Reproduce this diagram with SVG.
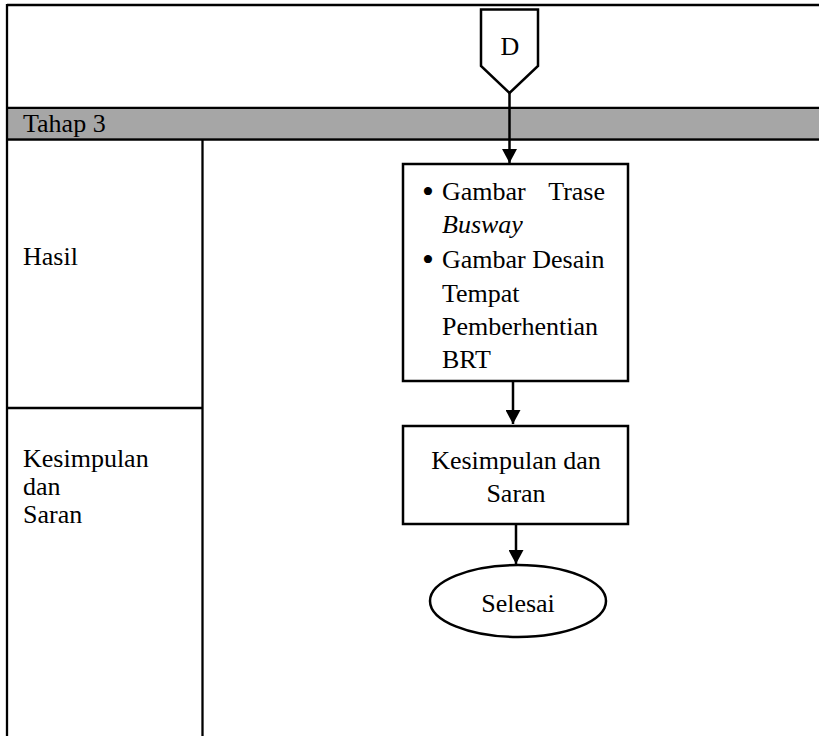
<svg xmlns="http://www.w3.org/2000/svg" width="819" height="736" viewBox="0 0 819 736">
  <style>
    .grid { stroke: #000; stroke-width: 2.3; fill: none; }
    .box { fill: #fff; stroke: #000; stroke-width: 2.5; }
    .txt { font-size: 26px; fill: #000; }
    .bullet { font-size: 34px; fill: #000; }
    .mid { text-anchor: middle; }
    .flow { stroke: #000; stroke-width: 2.5; fill: none; }
  </style>
  <defs>
    <marker id="arrow" viewBox="0 0 14 15" refX="14" refY="7.5" markerWidth="14" markerHeight="15" markerUnits="userSpaceOnUse" orient="auto">
      <path d="M0,0 L14,7.5 L0,15 Z" fill="#000"/>
    </marker>
  </defs>

  <rect width="819" height="736" fill="#fff"/>

  <g font-family="'Liberation Serif', 'Times New Roman', Times, serif">
    <!-- table frame with stage band and row labels -->
    <g id="table">
      <rect x="7" y="108.5" width="812" height="30" fill="#a6a6a6"/>
      <line class="grid" x1="7" y1="5" x2="819" y2="5"/>
      <line class="grid" x1="7" y1="4" x2="7" y2="736"/>
      <line class="grid" x1="7" y1="107.8" x2="819" y2="107.8"/>
      <line class="grid" x1="7" y1="139.5" x2="819" y2="139.5"/>
      <line class="grid" x1="202.5" y1="139.5" x2="202.5" y2="736"/>
      <line class="grid" x1="7" y1="408" x2="202.5" y2="408"/>
      <text class="txt" x="23" y="132">Tahap 3</text>
      <text class="txt" x="23" y="265">Hasil</text>
      <text class="txt" x="23" y="467">Kesimpulan</text>
      <text class="txt" x="23" y="495">dan</text>
      <text class="txt" x="23" y="523">Saran</text>
    </g>

    <!-- connectors -->
    <g id="connectors">
      <line class="flow" x1="509.5" y1="93" x2="509.5" y2="163" marker-end="url(#arrow)"/>
      <line class="flow" x1="513" y1="381" x2="513" y2="424" marker-end="url(#arrow)"/>
      <line class="flow" x1="516" y1="524" x2="516" y2="564" marker-end="url(#arrow)"/>
    </g>

    <!-- off-page connector D -->
    <g id="node-d">
      <path class="box" d="M481,9.5 L538,9.5 L538,66 L509.5,93 L481,66 Z"/>
      <text class="txt mid" x="510" y="55">D</text>
    </g>

    <!-- outputs -->
    <g id="node-hasil">
      <rect class="box" x="403" y="164" width="225" height="217"/>
      <text class="bullet" x="422" y="203">•</text>
      <text class="txt" x="442" y="200">Gambar</text>
      <text class="txt" x="605" y="200" text-anchor="end">Trase</text>
      <text class="txt" x="442" y="233" font-style="italic">Busway</text>
      <text class="bullet" x="422" y="271">•</text>
      <text class="txt" x="442" y="268">Gambar Desain</text>
      <text class="txt" x="442" y="302">Tempat</text>
      <text class="txt" x="442" y="335">Pemberhentian</text>
      <text class="txt" x="442" y="368">BRT</text>
    </g>

    <g id="node-kesimpulan">
      <rect class="box" x="403" y="426" width="225" height="98"/>
      <text class="txt mid" x="516" y="469">Kesimpulan dan</text>
      <text class="txt mid" x="516" y="502">Saran</text>
    </g>

    <g id="node-selesai">
      <ellipse class="box" cx="518" cy="601" rx="88" ry="36"/>
      <text class="txt mid" x="518" y="612">Selesai</text>
    </g>
  </g>
</svg>
